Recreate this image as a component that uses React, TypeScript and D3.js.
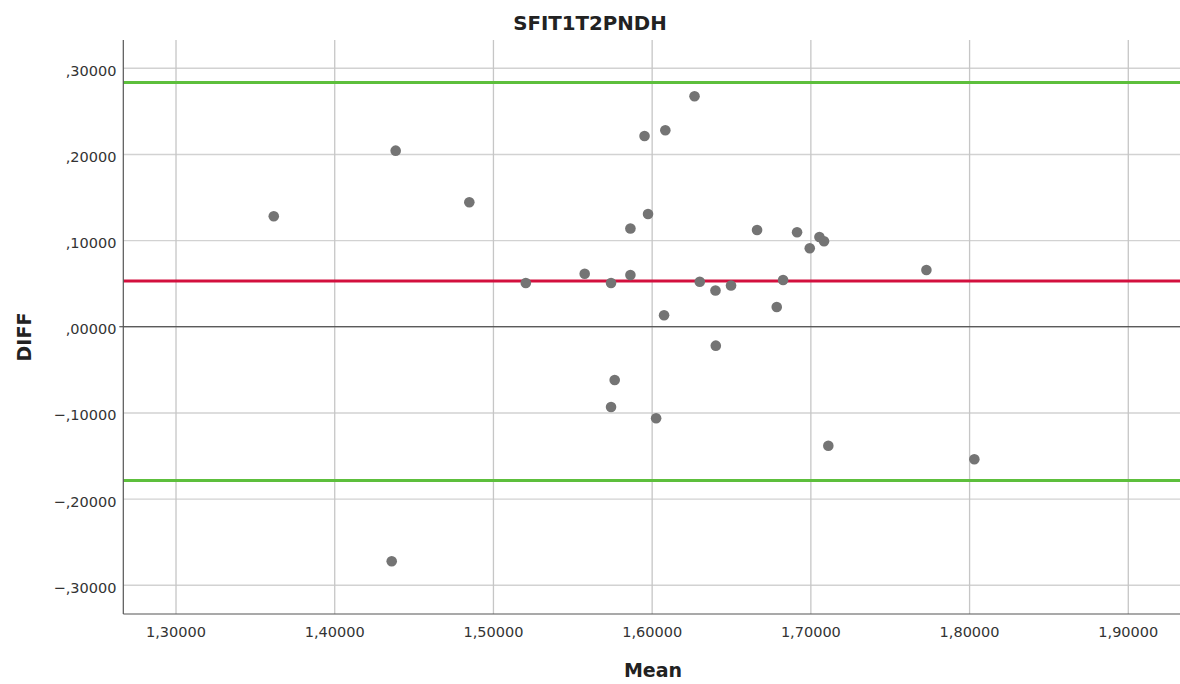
import React from "react";
import * as d3 from "d3";

const meanValues = [
  1.3616, 1.4384, 1.4848, 1.4359, 1.5204, 1.5575, 1.5741, 1.5863, 1.5863, 1.5952,
  1.5974, 1.6083, 1.6267, 1.63, 1.6399, 1.6497, 1.6075, 1.6661, 1.6913, 1.6993,
  1.7054, 1.7083, 1.6825, 1.6785, 1.7728, 1.6401, 1.5764, 1.5741, 1.6025, 1.711,
  1.803,
];
const diffValues = [
  0.1282, 0.2044, 0.1445, -0.2721, 0.0508, 0.0616, 0.0508, 0.0601, 0.1141, 0.2214,
  0.1309, 0.228, 0.2675, 0.0523, 0.0421, 0.0479, 0.0134, 0.1123, 0.1097, 0.0911,
  0.1042, 0.0992, 0.0543, 0.023, 0.0659, -0.0219, -0.0617, -0.0931, -0.1062, -0.138,
  -0.1538,
];
const xTicks = [1.3, 1.4, 1.5, 1.6, 1.7, 1.8, 1.9];
const yTicks = [0.3, 0.2, 0.1, 0.0, -0.1, -0.2, -0.3];
const meanDiff = 0.053;
const limitsOfAgreement = [0.2835, -0.1785];
const chartTitle = "SFIT1T2PNDH";
const xTitle = "Mean";
const yTitle = "DIFF";

const fmt = (v: number) => {
  const s = Math.abs(v).toFixed(5).replace(".", ",");
  const t = s.startsWith("0,") ? s.slice(1) : s;
  return (v < 0 ? "\u2212" : "") + t;
};

export default function App() {
  const W = 1180;
  const H = 684;
  const left = 123.3;
  const right = 1180;
  const top = 40;
  const bottom = 614;
  const x = d3.scaleLinear().domain([1.26679, 1.93258]).range([left, right]);
  const y = d3.scaleLinear().domain([-0.3333, 0.3328]).range([bottom, top]);
  const font = "'DejaVu Sans', sans-serif";
  const points = meanValues.map((m, i) => ({ m, d: diffValues[i] }));

  return (
    <svg
      width={W}
      height={H}
      style={{ position: "absolute", left: 0, top: 0, background: "#fff" }}
    >
      {yTicks.map((t) => (
        <line key={"gy" + t} x1={left} x2={right} y1={y(t)} y2={y(t)} stroke="#d2d2d2" strokeWidth={1.4} />
      ))}
      {xTicks.map((t) => (
        <line key={"gx" + t} x1={x(t)} x2={x(t)} y1={top} y2={bottom} stroke="#c6c6c6" strokeWidth={1.3} />
      ))}
      <line x1={left - 4} x2={right} y1={y(0)} y2={y(0)} stroke="#333" strokeWidth={1.1} />
      {limitsOfAgreement.map((v) => (
        <line key={"loa" + v} x1={left} x2={right} y1={y(v)} y2={y(v)} stroke="#5dbf3c" strokeWidth={3} />
      ))}
      <line x1={left} x2={right} y1={y(meanDiff)} y2={y(meanDiff)} stroke="#d3103e" strokeWidth={3} />
      {points.map((p, i) => (
        <circle key={i} cx={x(p.m)} cy={y(p.d)} r={5.3} fill="#747474" />
      ))}
      <line x1={left} x2={left} y1={top} y2={bottom} stroke="#555" strokeWidth={1.2} />
      <line x1={left} x2={right} y1={bottom} y2={bottom} stroke="#555" strokeWidth={1.2} />
      {yTicks.map((t) => (
        <text
          key={"ly" + t}
          x={116.5}
          y={y(t) + 7.5}
          textAnchor="end"
          fontFamily={font}
          fontSize={14.5}
          fill="#333"
        >
          {fmt(t)}
        </text>
      ))}
      {xTicks.map((t) => (
        <text
          key={"lx" + t}
          x={x(t)}
          y={637}
          textAnchor="middle"
          fontFamily={font}
          fontSize={14.5}
          fill="#333"
        >
          {fmt(t)}
        </text>
      ))}
      <text x={590} y={29.5} textAnchor="middle" fontFamily={font} fontWeight="bold" fontSize={19.8} fill="#222">
        {chartTitle}
      </text>
      <text x={653} y={677} textAnchor="middle" fontFamily={font} fontWeight="bold" fontSize={19} fill="#222">
        {xTitle}
      </text>
      <text
        transform={`translate(30.5,337) rotate(-90)`}
        textAnchor="middle"
        fontFamily={font}
        fontWeight="bold"
        fontSize={19}
        fill="#222"
      >
        {yTitle}
      </text>
    </svg>
  );
}
